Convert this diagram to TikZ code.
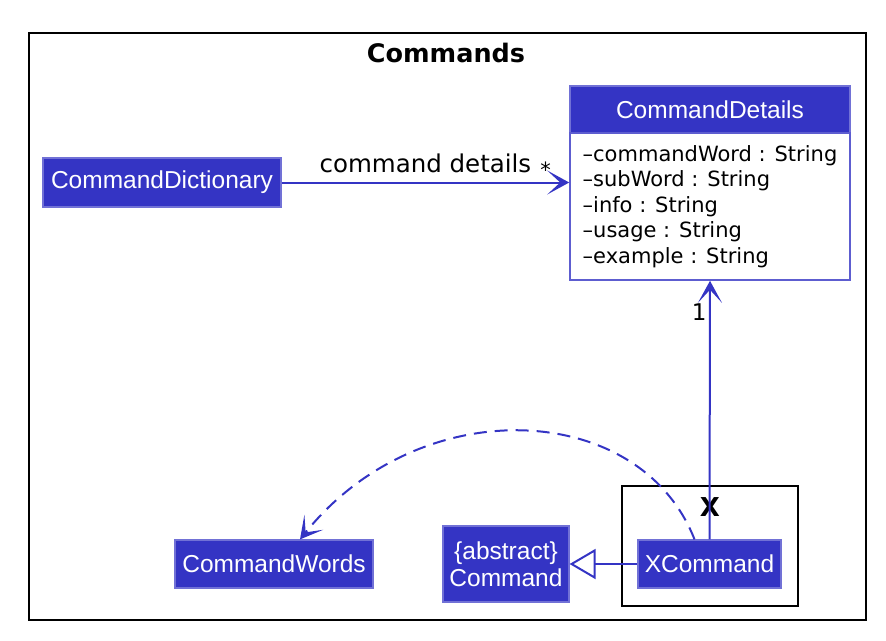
\documentclass[tikz,border=0pt]{standalone}
\usepackage{fontspec}
\setmainfont{DejaVu Sans}
\newfontfamily\helv{Liberation Sans}
\usetikzlibrary{arrows.meta,positioning}
\definecolor{umlblue}{RGB}{52,52,196}

\begin{document}
\begin{tikzpicture}[x=1pt, y=-1pt,
  cls/.style={draw=umlblue!70!white, fill=umlblue, line width=1.2pt, text=white, font=\helv\fontsize{24.5}{27}\selectfont, inner sep=0pt, align=center},
  body/.style={draw=umlblue!80!white, fill=white, line width=1.6pt, inner sep=0pt, align=left, font=\fontsize{21}{25.5}\selectfont},
  pkg/.style={draw=black, line width=2.6pt, inner sep=0pt},
  arrow/.style={-{Stealth[length=22pt, width=24pt, inset=13pt]}, draw=umlblue, line width=2pt},
  dep/.style={arrow, dashed, dash pattern=on 13pt off 8pt},
  ext/.style={-{Triangle[open, length=26pt, width=30pt, line width=2pt]}, draw=umlblue, line width=2pt}
]
\useasboundingbox (0,0) rectangle (886,640);
% frames
\node[pkg, minimum width=837pt, minimum height=587pt] (frame) at (447.5,326.5) {};
\node[font=\bfseries\fontsize{25.5}{28}\selectfont] (ttl) at (446,53) {Commands};
\node[pkg, minimum width=176pt, minimum height=120pt] (pkgx) at (710,546) {};
\node[font=\bfseries\fontsize{26}{28}\selectfont] (xname) at (710,507) {X};

% classes
\node[cls, minimum width=238pt, minimum height=49pt] (dict) at (162,182.5) {CommandDictionary};
\node[cls, minimum width=280pt, minimum height=47pt] (cdhead) at (710,109.5) {CommandDetails};
\node[body, minimum width=280pt, minimum height=147pt] (cdbody) at (710,206.5)
  {--commandWord : String\\--subWord : String\\--info : String\\--usage : String\\--example : String};
\node[cls, minimum width=198pt, minimum height=48pt] (words) at (274,564) {CommandWords};
\node[cls, minimum width=126pt, minimum height=76pt] (cmd) at (506,564) {\{abstract\}\\Command};
\node[cls, minimum width=143pt, minimum height=48pt] (xcmd) at (709.5,564) {XCommand};

% relations
\draw[arrow] (dict.east) -- (cdbody.west |- dict.east)
  node[pos=0.5, above=5pt, font=\fontsize{24.5}{27}\selectfont] (lbl) {command details}
  node[pos=1, above left=1pt and 14pt, font=\fontsize{21}{24}\selectfont] (mult) {*};
\draw[arrow] (xcmd.north) -- (cdbody.south)
  node[pos=0.88, left=-1pt, font=\fontsize{23}{26}\selectfont] (one) {1};
\draw[ext] (xcmd.west) -- (cmd.east);
\draw[dep] ([xshift=-15pt]xcmd.north) .. controls (640,400) and (420,390) .. ([xshift=26pt]words.north);
\end{tikzpicture}
\end{document}
